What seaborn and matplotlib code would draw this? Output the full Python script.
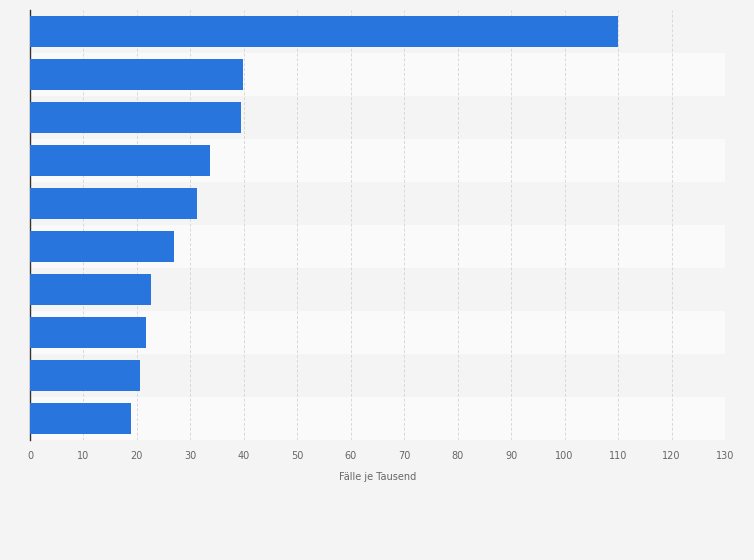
import matplotlib
matplotlib.use("Agg")
import matplotlib.pyplot as plt
import seaborn as sns
import pandas as pd

categories = ["A", "B", "C", "D", "E", "F", "G", "H", "I", "J"]
values = [110.0, 39.8, 39.5, 33.7, 31.3, 26.9, 22.6, 21.7, 20.6, 18.9]
ticks = list(range(0, 131, 10))

df = pd.DataFrame({"cat": categories, "val": values})
fig = plt.figure(figsize=(7.54, 5.6), dpi=100, facecolor="#f4f4f4")
ax = fig.add_axes([30/754, 120/560, 695/754, 430/560])
ax.set_facecolor("#fafafa")
for i in range(len(categories)):
    ax.axhspan(i - 0.5, i + 0.5, color="#f4f4f4" if i % 2 == 0 else "#fafafa", zorder=0, lw=0)
sns.barplot(data=df, x="val", y="cat", color="#2876dd", width=0.7, saturation=1, ax=ax, zorder=3)
ax.set_xlim(0, 130)
ax.set_ylim(len(categories) - 0.5, -0.5)
ax.set_xticks(ticks)
ax.set_xticklabels([str(t) for t in ticks], fontsize=7, color="#666666")
ax.set_yticks([])
ax.set_ylabel("")
ax.set_xlabel("Fälle je Tausend", fontsize=7, color="#666666", labelpad=8)
ax.grid(axis="x", color="#d8d8d8", linestyle=(0, (3, 2)), lw=0.7, zorder=1)
ax.tick_params(axis="x", length=0, pad=8)
for s in ["top", "right", "bottom"]:
    ax.spines[s].set_visible(False)
ax.spines["left"].set_color("#333333")
ax.spines["left"].set_linewidth(1)
fig.savefig("out.png", dpi=100, facecolor=fig.get_facecolor())
